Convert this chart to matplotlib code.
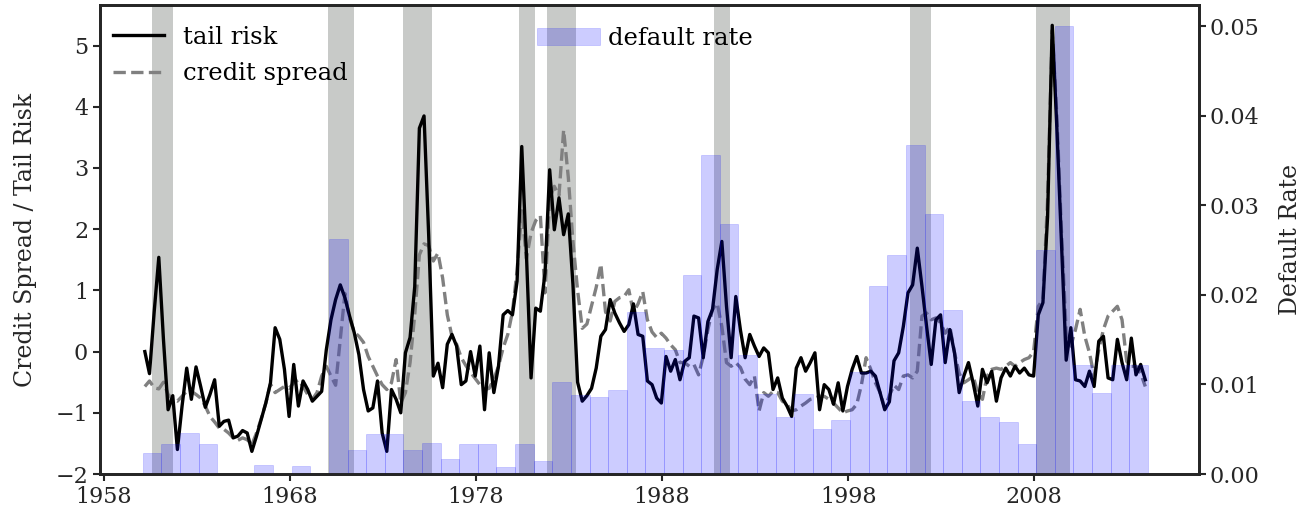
import numpy as np
import matplotlib.pyplot as plt

# quarterly series, 1960Q1 - 2013Q4
tail_risk = [
    0.0, -0.36, 0.64, 1.54, 0.2, -0.95, -0.72, -1.6, -0.89, -0.27,
    -0.78, -0.25, -0.57, -0.91, -0.7, -0.46, -1.22, -1.14, -1.12, -1.41,
    -1.38, -1.29, -1.33, -1.63, -1.38, -1.11, -0.84, -0.51, 0.39, 0.2,
    -0.29, -1.06, -0.21, -0.89, -0.48, -0.62, -0.81, -0.73, -0.65, 0.03,
    0.52, 0.85, 1.09, 0.88, 0.58, 0.31, -0.05, -0.62, -0.97, -0.92,
    -0.48, -1.33, -1.63, -0.62, -0.78, -1.0, -0.02, 0.23, 1.06, 3.65,
    3.85, 1.9, -0.4, -0.19, -0.59, 0.12, 0.28, 0.09, -0.54, -0.48,
    0.0, -0.4, 0.09, -0.95, -0.02, -0.67, -0.24, 0.6, 0.67, 0.6,
    1.15, 3.35, 1.6, -0.43, 0.71, 0.66, 1.28, 2.97, 1.99, 2.51,
    1.91, 2.25, 1.1, -0.5, -0.81, -0.72, -0.6, -0.27, 0.25, 0.36,
    0.85, 0.63, 0.47, 0.33, 0.44, 0.78, 0.28, 0.25, -0.48, -0.54,
    -0.76, -0.84, -0.08, -0.32, -0.13, -0.46, -0.16, -0.1, 0.58, 0.55,
    -0.1, 0.49, 0.69, 1.34, 1.8, 0.74, -0.1, 0.9, 0.35, -0.1,
    0.28, 0.09, -0.08, 0.06, -0.02, -0.62, -0.43, -0.76, -0.89, -1.06,
    -0.27, -0.1, -0.32, -0.18, -0.02, -0.95, -0.54, -0.62, -0.86, -0.51,
    -0.97, -0.57, -0.29, -0.08, -0.35, -0.35, -0.32, -0.4, -0.67, -0.95,
    -0.82, -0.15, -0.02, 0.41, 0.96, 1.09, 1.69, 1.07, 0.41, -0.21,
    0.52, 0.6, -0.18, 0.36, -0.02, -0.67, -0.4, -0.18, -0.51, -0.89,
    -0.29, -0.51, -0.32, -0.81, -0.43, -0.27, -0.4, -0.24, -0.35, -0.27,
    -0.38, -0.4, 0.6, 0.8, 2.2, 5.33, 3.64, 1.73, -0.14, 0.39,
    -0.46, -0.48, -0.57, -0.32, -0.57, 0.17, 0.25, -0.43, -0.46, 0.2,
    -0.18, -0.46, 0.22, -0.38, -0.21, -0.46,
]

credit_spread = [
    -0.57, -0.48, -0.59, -0.61, -0.5, -0.7, -0.78, -0.81, -0.73, -0.65,
    -0.65, -0.7, -0.76, -0.89, -1.06, -1.15, -1.25, -1.27, -1.33, -1.41,
    -1.45, -1.41, -1.44, -1.52, -1.33, -1.1, -0.84, -0.53, -0.67, -0.62,
    -0.57, -0.6, -0.51, -0.46, -0.57, -0.7, -0.78, -0.67, -0.4, -0.24,
    -0.4, -0.55, 0.2, 0.95, 0.55, 0.32, 0.25, 0.15, -0.08, -0.24,
    -0.4, -0.54, -0.62, -0.51, -0.13, -0.84, -0.67, -0.18, 0.6, 1.58,
    1.76, 1.73, 1.48, 1.61, 1.2, 0.6, 0.25, 0.12, -0.1, -0.23,
    -0.34, -0.44, -0.54, -0.62, -0.6, -0.45, -0.24, 0.06, 0.28, 0.65,
    1.33, 2.3, 1.52, 1.94, 2.14, 2.22, 0.96, 2.5, 2.7, 2.55,
    3.62, 2.85, 1.8, 1.0, 0.38, 0.45, 0.75, 1.05, 1.43, 0.65,
    0.5, 0.82, 0.88, 0.9, 1.01, 0.64, 0.78, 0.98, 0.52, 0.32,
    0.23, 0.3, 0.22, 0.11, 0.03, -0.18, -0.18, -0.24, -0.21, -0.38,
    -0.08, 0.36, 0.69, 0.79, 0.41, -0.18, -0.24, -0.18, -0.26, -0.45,
    -0.54, -0.4, -0.97, -0.67, -0.73, -0.65, -0.67, -0.81, -0.86, -0.97,
    -0.95, -0.89, -0.84, -0.78, -0.76, -0.73, -0.73, -0.78, -0.84, -0.92,
    -1.0, -0.97, -0.95, -0.86, -0.54, -0.1, -0.29, -0.51, -0.67, -0.92,
    -0.72, -0.55, -0.62, -0.4, -0.38, -0.43, -0.32, 0.58, 0.63, 0.52,
    0.55, 0.47, 0.3, 0.41, -0.02, -0.35, -0.51, -0.46, -0.4, -0.67,
    -0.78, -0.4, -0.29, -0.27, -0.29, -0.24, -0.18, -0.24, -0.18, -0.13,
    -0.1, 0.0, 0.74, 0.85, 2.48, 5.25, 3.84, 1.94, 0.31, 0.09,
    0.36, 0.69, 0.25, -0.02, -0.4, 0.03, 0.36, 0.58, 0.66, 0.74,
    0.52, -0.16, -0.24, -0.24, -0.35, -0.57,
]

# annual default rate
default_years = list(range(1960, 2014))
default_rate = [
    0.0024, 0.0034, 0.0046, 0.0034, 0.0, 0.0, 0.001, 0.0, 0.0009, 0.0,
    0.0262, 0.0027, 0.0045, 0.0045, 0.0027, 0.0035, 0.0017, 0.0034, 0.0034, 0.0008,
    0.0033, 0.0015, 0.0103, 0.0088, 0.0086, 0.0094, 0.0181, 0.0141, 0.0138, 0.0222,
    0.0356, 0.0279, 0.0133, 0.0089, 0.0064, 0.0089, 0.005, 0.006, 0.0114, 0.021,
    0.0244, 0.0367, 0.029, 0.0183, 0.0082, 0.0064, 0.0058, 0.0034, 0.025, 0.05,
    0.0122, 0.009, 0.0122, 0.0122,
]

# NBER recessions (decimal years)
recession_start = [1960.58, 1970.07, 1974.06, 1980.31, 1981.81, 1990.81, 2001.30, 2008.07]
recession_end = [1961.70, 1971.43, 1975.66, 1981.17, 1983.40, 1991.66, 2002.43, 2009.89]


def main():
    plt.rcParams["font.family"] = "DejaVu Serif"
    plt.rcParams["axes.edgecolor"] = "#262626"
    plt.rcParams["axes.linewidth"] = 2.0
    plt.rcParams["xtick.major.width"] = 1.5
    plt.rcParams["ytick.major.width"] = 1.5
    plt.rcParams["xtick.major.size"] = 5
    plt.rcParams["ytick.major.size"] = 5
    plt.rcParams["xtick.color"] = "#262626"
    plt.rcParams["ytick.color"] = "#262626"

    fig = plt.figure(figsize=(13.12, 5.15), dpi=100)
    ax = fig.add_axes([0.0762, 0.0796, 0.8376, 0.9104])

    t = np.arange(len(tail_risk)) / 4 + 1960.21

    for start, end in zip(recession_start, recession_end):
        ax.axvspan(start, end, color="#c8cac8", lw=0, zorder=0)

    ax.plot(t, tail_risk, "-", color="k", lw=2.4, label="tail risk", zorder=3)
    ax.plot(t, credit_spread, "--", color="grey", lw=2.4, label="credit spread", zorder=2)

    ax.set_xlim(1957.8, 2016.84)
    ax.set_ylim(-2, 5.66)
    ax.set_xticks(np.arange(1958, 2009, 10))
    ax.set_yticks(np.arange(-2, 6))
    ax.tick_params(labelsize=16)
    ax.set_ylabel("Credit Spread / Tail Risk", fontsize=17, color="#262626", labelpad=13)
    ax.legend(loc="upper left", bbox_to_anchor=(-0.007, 1.0), frameon=False,
              fontsize=17.5, handlelength=2.1, handletextpad=0.8, labelspacing=0.55,
              borderaxespad=0.45)

    ax2 = ax.twinx()
    ax2.bar(np.array(default_years) + 0.1, default_rate, width=1.0, align="edge",
            color="b", alpha=0.2, edgecolor="b", linewidth=0.5, label="default rate")
    ax2.set_ylim(0, 0.05235)
    ax2.set_yticks(np.arange(0, 0.051, 0.01))
    ax2.set_yticklabels(["{:.2f}".format(v) for v in np.arange(0, 0.051, 0.01)])
    ax2.tick_params(labelsize=16, pad=2.5)
    ax2.set_ylabel("Default Rate", fontsize=17, color="#262626", labelpad=14)
    ax2.legend(loc="upper left", bbox_to_anchor=(0.3775, 1.0), frameon=False,
               fontsize=17.5, handlelength=2.6, handletextpad=0.35, borderaxespad=0.5)

    fig.savefig("out.png", dpi=100)


if __name__ == "__main__":
    main()
